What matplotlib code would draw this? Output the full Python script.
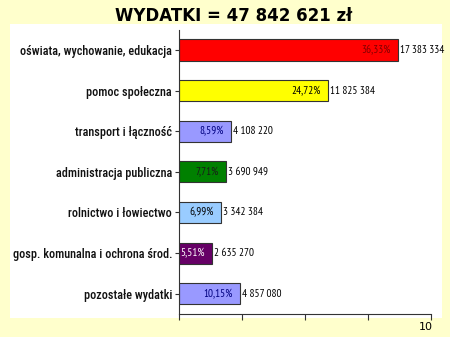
import matplotlib
matplotlib.use('Agg')
import matplotlib.pyplot as plt
from matplotlib.patches import Rectangle
from matplotlib.ticker import MultipleLocator, NullFormatter

# data (top to bottom)
categories = ['oświata, wychowanie, edukacja', 'pomoc społeczna', 'transport i łączność',
              'administracja publiczna', 'rolnictwo i łowiectwo',
              'gosp. komunalna i ochrona środ.', 'pozostałe wydatki']
values = [17383334, 11825384, 4108220, 3690949, 3342384, 2635270, 4857080]
percents = ['36,33%', '24,72%', '8,59%', '7,71%', '6,99%', '5,51%', '10,15%']
value_labels = ['17 383 334', '11 825 384', '4 108 220', '3 690 949', '3 342 384', '2 635 270', '4 857 080']
bar_colors = ['#FF0000', '#FFFF00', '#9999FF', '#008000', '#99CCFF', '#660066', '#9999FF']
pct_colors = ['#800000', '#000000', '#000080', '#1a1a1a', '#000000', '#FFFFFF', '#000080']

# narrow fonts like Arial Narrow in the original slide
narrow = ['PT Sans Narrow', 'Roboto Condensed', 'Liberation Sans Narrow', 'DejaVu Sans']
cond = ['Roboto Condensed', 'PT Sans Narrow', 'Liberation Sans Narrow', 'DejaVu Sans']

fig = plt.figure(figsize=(4.5, 3.37), dpi=100)
fig.patch.set_facecolor('#FFFFCC')

# white slide panel
fig.patches.append(Rectangle((10 / 450, 1 - 318 / 337), 432 / 450, 294 / 337,
                             transform=fig.transFigure, facecolor='white',
                             edgecolor='none', zorder=-5))

ax = fig.add_axes([179 / 450, 1 - 314 / 337, 252 / 450, 284.25 / 337])
ax.set_facecolor('white')

y = list(range(len(categories)))
ax.barh(y, values, height=0.52, color=bar_colors, edgecolor='#333333', linewidth=0.8, zorder=2)

for i in y:
    ax.annotate(percents[i], (values[i], i), xytext=(-5, 0), textcoords='offset points',
                ha='right', va='center', fontsize=8, color=pct_colors[i], family=narrow)
    ax.annotate(value_labels[i], (values[i], i), xytext=(1.5, 0), textcoords='offset points',
                ha='left', va='center', fontsize=8, color='black', family=narrow)

ax.set_ylim(len(categories) - 0.5, -0.5)
ax.set_xlim(0, 20000000)
ax.set_yticks(y)
ax.set_yticklabels(categories, family=cond, fontsize=8.8, fontweight='medium', color='#111111')
ax.xaxis.set_major_locator(MultipleLocator(5000000))
ax.xaxis.set_major_formatter(NullFormatter())
ax.tick_params(axis='x', length=4, width=0.8, color='#333333')
ax.tick_params(axis='y', length=3, width=0.8, color='#333333', pad=2)

for s in ['top', 'right']:
    ax.spines[s].set_visible(False)
for s in ['left', 'bottom']:
    ax.spines[s].set_color('#333333')
    ax.spines[s].set_linewidth(0.8)

fig.text(234 / 450, 1 - 16 / 337, 'WYDATKI = 47 842 621 zł', ha='center', va='center',
         fontsize=12, fontweight='bold', family='DejaVu Sans')
fig.text(426 / 450, 1 - 327 / 337, '10', ha='center', va='center', fontsize=8, family='DejaVu Sans')

fig.savefig('out.png', dpi=100, facecolor=fig.get_facecolor())
